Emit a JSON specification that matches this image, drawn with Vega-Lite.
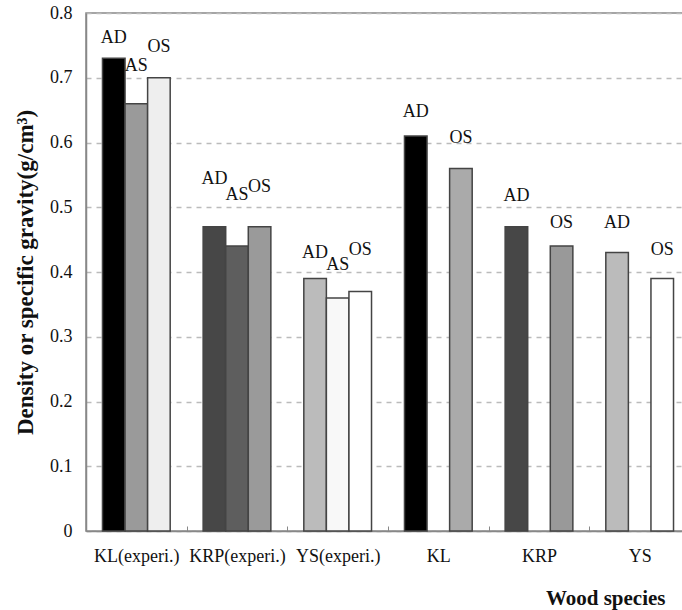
{
  "$schema": "https://vega.github.io/schema/vega-lite/v6.json",
  "width": 604,
  "height": 518,
  "autosize": "none",
  "padding": {"left": 86, "top": 13, "right": 0, "bottom": 79},
  "background": "white",
  "config": {
    "view": {"stroke": "#888888", "strokeWidth": 1.5},
    "font": "Times New Roman, Liberation Serif, serif"
  },
  "datasets": {
    "bars": [
      {"species": "KL(experi.)", "cond": "AD", "value": 0.73, "key": "KLe-AD"},
      {"species": "KL(experi.)", "cond": "AS", "value": 0.66, "key": "KLe-AS"},
      {"species": "KL(experi.)", "cond": "OS", "value": 0.70, "key": "KLe-OS"},
      {"species": "KRP(experi.)", "cond": "AD", "value": 0.47, "key": "KRPe-AD"},
      {"species": "KRP(experi.)", "cond": "AS", "value": 0.44, "key": "KRPe-AS"},
      {"species": "KRP(experi.)", "cond": "OS", "value": 0.47, "key": "KRPe-OS"},
      {"species": "YS(experi.)", "cond": "AD", "value": 0.39, "key": "YSe-AD"},
      {"species": "YS(experi.)", "cond": "AS", "value": 0.36, "key": "YSe-AS"},
      {"species": "YS(experi.)", "cond": "OS", "value": 0.37, "key": "YSe-OS"},
      {"species": "KL", "cond": "AD", "value": 0.61, "key": "KL-AD"},
      {"species": "KL", "cond": "OS", "value": 0.56, "key": "KL-OS"},
      {"species": "KRP", "cond": "AD", "value": 0.47, "key": "KRP-AD"},
      {"species": "KRP", "cond": "OS", "value": 0.44, "key": "KRP-OS"},
      {"species": "YS", "cond": "AD", "value": 0.43, "key": "YS-AD"},
      {"species": "YS", "cond": "OS", "value": 0.39, "key": "YS-OS"}
    ],
    "labels": [
      {"species": "KL(experi.)", "cond": "AD", "ly": 0.761},
      {"species": "KL(experi.)", "cond": "AS", "ly": 0.718},
      {"species": "KL(experi.)", "cond": "OS", "ly": 0.747},
      {"species": "KRP(experi.)", "cond": "AD", "ly": 0.543},
      {"species": "KRP(experi.)", "cond": "AS", "ly": 0.519},
      {"species": "KRP(experi.)", "cond": "OS", "ly": 0.531},
      {"species": "YS(experi.)", "cond": "AD", "ly": 0.429},
      {"species": "YS(experi.)", "cond": "AS", "ly": 0.411},
      {"species": "YS(experi.)", "cond": "OS", "ly": 0.434},
      {"species": "KL", "cond": "AD", "ly": 0.647},
      {"species": "KL", "cond": "OS", "ly": 0.607},
      {"species": "KRP", "cond": "AD", "ly": 0.517},
      {"species": "KRP", "cond": "OS", "ly": 0.476},
      {"species": "YS", "cond": "AD", "ly": 0.476},
      {"species": "YS", "cond": "OS", "ly": 0.434}
    ]
  },
  "encoding": {
    "x": {
      "field": "species",
      "type": "nominal",
      "sort": ["KL(experi.)", "KRP(experi.)", "YS(experi.)", "KL", "KRP", "YS"],
      "scale": {"domain": ["KL(experi.)", "KRP(experi.)", "YS(experi.)", "KL", "KRP", "YS"], "paddingInner": 0, "paddingOuter": 0},
      "axis": {
        "title": "Wood species",
        "titleFont": "Times New Roman, Liberation Serif, serif",
        "titleFontSize": 21,
        "titleFontWeight": "bold",
        "titleColor": "#111111",
        "titleAlign": "right",
        "titleAnchor": null,
        "titleX": 579,
        "titleY": 73,
        "titleBaseline": "alphabetic",
        "labelAngle": 0,
        "labelFont": "Times New Roman, Liberation Serif, serif",
        "labelFontSize": 18,
        "labelColor": "#111111",
        "labelPadding": 21,
        "tickBand": "extent",
        "tickSize": -5,
        "tickColor": "#888888",
        "tickWidth": 1,
        "domainColor": "#888888",
        "domainWidth": 1.5,
        "grid": false
      }
    },
    "xOffset": {
      "field": "cond",
      "type": "nominal",
      "scale": {"domain": ["AD", "AS", "OS"], "paddingInner": 0, "paddingOuter": 0.73}
    }
  },
  "layer": [
    {
      "data": {"name": "bars"},
      "mark": {"type": "bar", "stroke": "#444444", "strokeWidth": 1.5},
      "encoding": {
        "y": {
          "field": "value",
          "type": "quantitative",
          "scale": {"domain": [0, 0.8], "nice": false},
          "axis": {
            "title": "Density or specific gravity(g/cm³)",
            "titleFont": "Times New Roman, Liberation Serif, serif",
            "titleFontSize": 23,
            "titleFontWeight": "bold",
            "titleColor": "#111111",
            "titlePadding": 12,
            "values": [0, 0.1, 0.2, 0.3, 0.4, 0.5, 0.6, 0.7, 0.8],
            "labelExpr": "datum.value == 0 ? '0' : format(datum.value, '.1f')",
            "labelFont": "Times New Roman, Liberation Serif, serif",
            "labelFontSize": 18,
            "labelColor": "#111111",
            "labelPadding": 14,
            "ticks": false,
            "domainColor": "#888888",
            "domainWidth": 1.5,
            "grid": true,
            "gridColor": "#bbbbbb",
            "gridWidth": 1.5,
            "gridDash": [5, 5]
          }
        },
        "fill": {
          "field": "key",
          "type": "nominal",
          "legend": null,
          "scale": {
            "domain": ["KLe-AD", "KLe-AS", "KLe-OS", "KRPe-AD", "KRPe-AS", "KRPe-OS", "YSe-AD", "YSe-AS", "YSe-OS", "KL-AD", "KL-OS", "KRP-AD", "KRP-OS", "YS-AD", "YS-OS"],
            "range": ["#000000", "#9a9a9a", "#eeeeee", "#474747", "#5e5e5e", "#9a9a9a", "#bbbbbb", "#f8f8f8", "#ffffff", "#000000", "#aaaaaa", "#474747", "#999999", "#bbbbbb", "#ffffff"]
          }
        }
      }
    },
    {
      "data": {"name": "labels"},
      "mark": {"type": "text", "font": "Times New Roman, Liberation Serif, serif", "fontSize": 18, "color": "#111111", "baseline": "middle", "align": "center"},
      "encoding": {
        "y": {"field": "ly", "type": "quantitative"},
        "text": {"field": "cond", "type": "nominal"}
      }
    }
  ]
}
